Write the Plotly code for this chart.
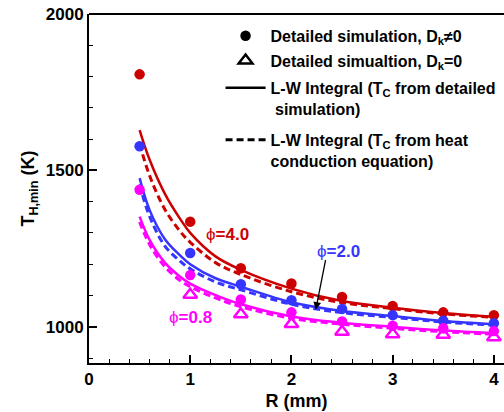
import plotly.graph_objects as go

# ---- data ----
R_pts = [0.5, 1.0, 1.5, 2.0, 2.5, 3.0, 3.5, 4.0]
T_red_sim = [1807, 1336, 1187, 1138, 1095, 1066, 1046, 1037]
T_blue_sim = [1577, 1236, 1136, 1085, 1057, 1037, 1019, 1011]
T_mag_sim = [1438, 1165, 1087, 1046, 1017, 1003, 995, 986]

R_tri = [1.0, 1.5, 2.0, 2.5, 3.0, 3.5, 4.0]
T_mag_tri = [1102, 1040, 1009, 984, 976, 974, 966]

R_curve = [0.5, 0.6, 0.75, 0.9, 1.0, 1.25, 1.5, 2.0, 2.5, 3.0, 3.5, 4.0]
T_red_lw = [1629, 1533, 1425, 1345, 1300, 1225, 1182, 1122, 1082, 1061, 1044, 1032]
T_red_hc = [1585, 1482, 1375, 1305, 1270, 1205, 1167, 1112, 1077, 1058, 1041, 1030]
T_blue_lw = [1475, 1372, 1280, 1228, 1200, 1155, 1128, 1078, 1050, 1034, 1018, 1008]
T_blue_hc = [1455, 1352, 1258, 1210, 1185, 1143, 1118, 1072, 1045, 1030, 1015, 1005]
T_mag_lw = [1352, 1277, 1205, 1160, 1138, 1101, 1072, 1033, 1013, 1000, 988, 980]
T_mag_hc = [1335, 1262, 1192, 1148, 1128, 1092, 1064, 1027, 1008, 995, 984, 976]

legend_labels = [
    "Detailed simulation, D<sub>k</sub>≠0",
    "Detailed simualtion, D<sub>k</sub>=0",
    "L-W Integral (T<sub>C</sub> from detailed<br> simulation)",
    "L-W Integral (T<sub>C</sub> from heat<br>conduction equation)",
]

RED = "#cc0000"
BLUE = "#3535ff"
MAG = "#ff00ff"
FONT = "Liberation Sans, Arial, sans-serif"

fig = go.Figure()

dash = "7px,4px"
for T_lw, T_hc, col in [(T_red_lw, T_red_hc, RED), (T_blue_lw, T_blue_hc, BLUE), (T_mag_lw, T_mag_hc, MAG)]:
    fig.add_trace(go.Scatter(x=R_curve, y=T_hc, mode="lines", line=dict(color=col, width=3, dash=dash, shape="spline"), showlegend=False))
    fig.add_trace(go.Scatter(x=R_curve, y=T_lw, mode="lines", line=dict(color=col, width=2.5, shape="spline"), showlegend=False))

for T, col in [(T_red_sim, RED), (T_blue_sim, BLUE), (T_mag_sim, MAG)]:
    fig.add_trace(go.Scatter(x=R_pts, y=T, mode="markers", marker=dict(color=col, size=10.5, symbol="circle"), showlegend=False))

fig.add_trace(go.Scatter(x=R_tri, y=T_mag_tri, mode="markers",
                         marker=dict(color=MAG, size=12, symbol="triangle-up-open", line=dict(width=2.5, color=MAG)),
                         showlegend=False))

# legend-only entries, each in its own legend box
fig.add_trace(go.Scatter(x=[None], y=[None], mode="markers", marker=dict(color="black", size=10.5, symbol="circle"),
                         name=legend_labels[0], legend="legend"))
fig.add_trace(go.Scatter(x=[None], y=[None], mode="markers", marker=dict(color="black", size=12, symbol="triangle-up-open", line=dict(width=2.5, color="black")),
                         name=legend_labels[1], legend="legend2"))
fig.add_trace(go.Scatter(x=[None], y=[None], mode="lines", line=dict(color="black", width=2.5),
                         name=legend_labels[2], legend="legend3"))
fig.add_trace(go.Scatter(x=[None], y=[None], mode="lines", line=dict(color="black", width=3, dash=dash),
                         name=legend_labels[3], legend="legend4"))

# annotations
fig.add_annotation(x=1.37, y=1294, text="ϕ<b>=4.0</b>", showarrow=False, font=dict(color=RED, size=17, family=FONT))
fig.add_annotation(x=1.0, y=1030, text="ϕ<b>=0.8</b>", showarrow=False, font=dict(color=MAG, size=17, family=FONT))
fig.add_annotation(x=2.46, y=1240, text="ϕ<b>=2.0</b>", showarrow=False, font=dict(color=BLUE, size=17, family=FONT))
fig.add_annotation(x=2.24, y=1054, ax=2.34, ay=1218, axref="x", ayref="y", xref="x", yref="y",
                   text="", showarrow=True, arrowhead=2, arrowsize=1.2, arrowwidth=1.3, arrowcolor="black")

# top frame line
fig.add_shape(type="line", xref="paper", yref="paper", x0=0, x1=1, y0=1, y1=1, line=dict(color="black", width=2))

def leg(ypos):
    return dict(x=0.317, y=ypos, xanchor="left", yanchor="top", bgcolor="rgba(0,0,0,0)", itemwidth=40,
                font=dict(size=16, family=FONT, weight="bold"), valign="top")

fig.update_layout(
    width=504, height=412,
    margin=dict(l=89, r=0, t=14, b=49),
    paper_bgcolor="white", plot_bgcolor="white",
    font=dict(family=FONT, color="black"),
    legend=leg(0.986), legend2=leg(0.915), legend3=leg(0.837), legend4=leg(0.688),
)
fig.update_xaxes(range=[0, 4.1], showgrid=False, zeroline=False, showline=True, linecolor="black", linewidth=2,
                 automargin=False,
                 tickmode="linear", tick0=0, dtick=1, ticks="inside", ticklen=8, tickwidth=1.5, tickcolor="black",
                 minor=dict(dtick=0.2, ticks="inside", ticklen=4, tickwidth=1, tickcolor="black"),
                 tickfont=dict(size=17, weight="bold"),
                 title=dict(text="<b>R (mm)</b>", font=dict(size=18), standoff=6))
fig.update_yaxes(range=[884, 2000], showgrid=False, zeroline=False, showline=True, linecolor="black", linewidth=2,
                 automargin=False,
                 tickmode="linear", tick0=0, dtick=500, ticks="inside", ticklen=8, tickwidth=1.5, tickcolor="black",
                 minor=dict(dtick=100, ticks="inside", ticklen=4, tickwidth=1, tickcolor="black"),
                 tickfont=dict(size=17, weight="bold"),
                 title=dict(text="<b>T<sub>H,min</sub> (K)</b>", font=dict(size=18), standoff=6))

fig.write_html("out.html", config={"displayModeBar": False},
               post_script="document.body.style.margin='0';document.body.style.overflow='hidden';")
